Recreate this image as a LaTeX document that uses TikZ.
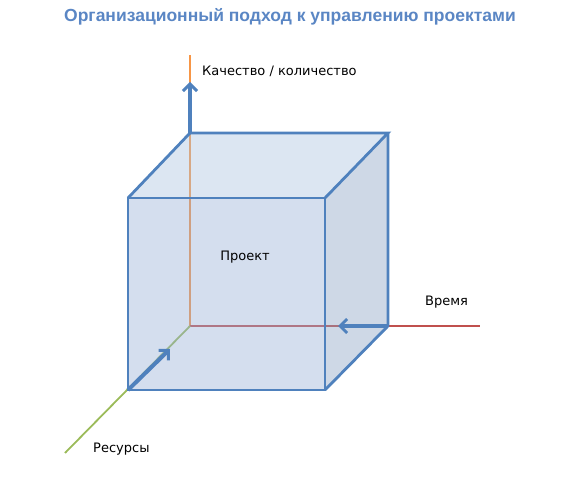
\documentclass[tikz,border=0pt]{standalone}
\usepackage{fontspec}
\setmainfont{DejaVu Sans}
\newfontfamily\titlefont{Liberation Sans}
\usetikzlibrary{arrows.meta}
\definecolor{edgeblue}{HTML}{4F81BD}
\definecolor{titleblue}{HTML}{5A86C4}
\definecolor{axisorange}{HTML}{F79646}
\definecolor{axisred}{HTML}{C0504D}
\definecolor{axisgreen}{HTML}{9BBB59}
\definecolor{frontfill}{HTML}{97AED6}
\definecolor{topfill}{HTML}{ABC3E0}
\definecolor{sidefill}{HTML}{89A1C3}
\tikzset{
	edge/.style={edgeblue,line width=2.8pt,line join=miter},
	axis/.style={line width=1.8pt},
	face/.style={fill opacity=.41},
	dirarrow/.style={edgeblue,line width=4pt,-{Straight Barb[length=7pt,width=14pt,line width=3pt]}},
	label/.style={font=\fontsize{13}{15}\selectfont,inner sep=0pt}
}
\begin{document}
\begin{tikzpicture}[x=1pt,y=-1pt]
	\useasboundingbox (0,0) rectangle (576,486);
	% cube corners
	\coordinate (F1) at (128,198);
	\coordinate (F2) at (325,198);
	\coordinate (F3) at (325,390);
	\coordinate (F4) at (128,390);
	\coordinate (B1) at (190,133);
	\coordinate (B2) at (388,133);
	\coordinate (B3) at (388,326);
	\coordinate (O) at (190,326);
	% axis ends
	\coordinate (Qend) at (190,55);
	\coordinate (Tend) at (480,326);
	\coordinate (Rend) at (65,453);
	\node[font=\titlefont\bfseries\fontsize{17.5}{20}\selectfont,text=titleblue] (title) at (290,17) {Организационный подход к управлению проектами};
	% axes
	\draw[axis,axisorange] (O) -- (Qend);
	\draw[axis,axisred] (O) -- (Tend);
	\draw[axis,axisgreen] (O) -- (Rend);
	% faces
	\fill[face,sidefill] (F2) -- (B2) -- (B3) -- (F3) -- cycle;
	\fill[face,topfill] (F1) -- (B1) -- (B2) -- (F2) -- cycle;
	\fill[face,frontfill] (F1) -- (F2) -- (F3) -- (F4) -- cycle;
	\draw[edge] (F1) -- (F2) -- (F3) -- (F4) -- cycle;
	\draw[edge] (F1) -- (B1) -- (B2) -- (F2);
	\draw[edge] (B2) -- (B3) -- (F3);
	% direction arrows
	\coordinate (Qtip) at (190,82);
	\coordinate (Ttip) at (338,326);
	\coordinate (Rtip) at (170,349);
	\draw[dirarrow] (B1) -- (Qtip);
	\draw[dirarrow] (B3) -- (Ttip);
	\draw[dirarrow] (F4) -- (Rtip);
	% labels
	\node[label,anchor=west] (qlabel) at (202,71) {Качество / количество};
	\node[label,anchor=west] (tlabel) at (425,302) {Время};
	\node[label,anchor=west] (rlabel) at (93,449) {Ресурсы};
	\node[label] (proj) at (245,257) {Проект};
\end{tikzpicture}
\end{document}
